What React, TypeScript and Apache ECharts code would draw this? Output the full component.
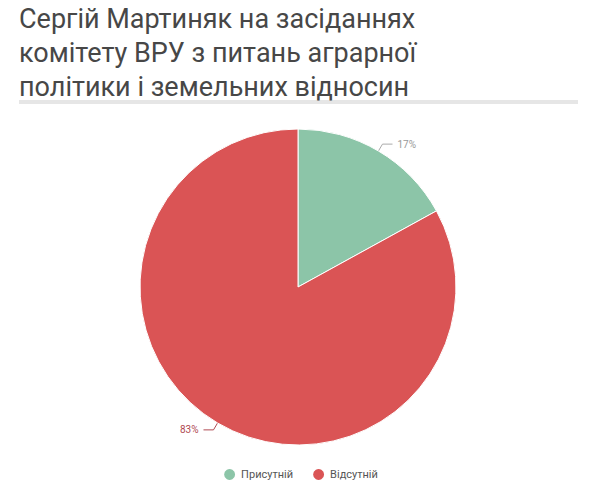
import React, { useEffect, useRef } from 'react'
import * as echarts from 'echarts'

const titleLines = [
  'Сергій Мартиняк на засіданнях',
  'комітету ВРУ з питань аграрної',
  'політики і земельних відносин',
]
const categories = ['Присутній', 'Відсутній']
const values = [17, 83]
const colors = ['#8cc5a8', '#da5455']

export default function App() {
  const chartRef = useRef<HTMLDivElement>(null)

  useEffect(() => {
    if (!chartRef.current) return
    const chart = echarts.init(chartRef.current, null, { renderer: 'svg' })

    const option = {
      animation: false,
      title: {
        text: titleLines.join('\n'),
        left: 19,
        top: 2,
        padding: 0,
        textStyle: {
          fontFamily: 'Roboto',
          fontWeight: 'normal',
          fontSize: 27,
          lineHeight: 34,
          color: '#474747',
        },
      },
      graphic: [
        {
          type: 'rect',
          shape: { x: 19, y: 100, width: 559, height: 4 },
          style: { fill: '#e6e6e6' },
        },
      ],
      legend: {
        bottom: 13,
        left: 'center',
        icon: 'circle',
        itemWidth: 13,
        itemHeight: 13,
        itemGap: 18,
        textStyle: { fontFamily: 'Roboto', fontSize: 11, color: '#555' },
        data: categories,
      },
      series: [
        {
          type: 'pie',
          center: [298, 287],
          radius: 158,
          startAngle: 90,
          clockwise: true,
          label: {
            formatter: '{d}%',
            fontFamily: 'Roboto',
            fontSize: 10,
          },
          labelLine: { length: 8, length2: 10, lineStyle: { width: 1 } },
          itemStyle: { borderColor: '#fff', borderWidth: 1 },
          emphasis: { disabled: true },
          data: categories.map((name, i) => ({
            name,
            value: values[i],
            itemStyle: { color: colors[i] },
            label: { color: i === 0 ? '#999' : '#b04a52' },
            labelLine: { lineStyle: { color: i === 0 ? '#aaa' : '#b04a52' } },
          })),
        },
      ],
    }

    chart.setOption(option)
    return () => chart.dispose()
  }, [])

  return (
    <div
      ref={chartRef}
      style={{ position: 'absolute', left: 0, top: 0, width: 600, height: 500 }}
    />
  )
}
